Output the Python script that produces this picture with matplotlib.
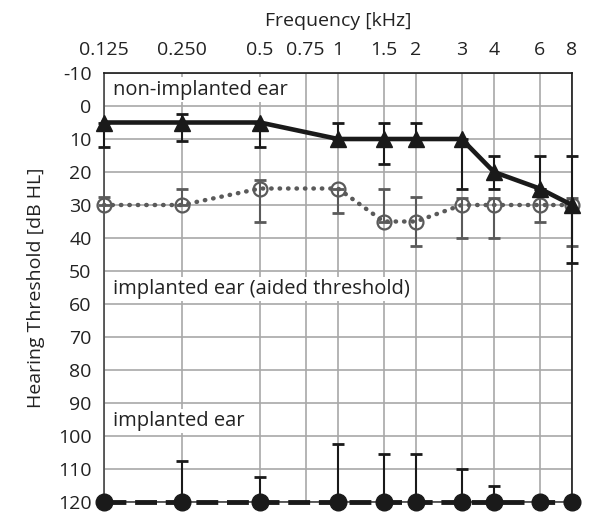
import numpy as np
import matplotlib.pyplot as plt

plt.rcParams['font.family'] = ['Open Sans', 'DejaVu Sans']
plt.rcParams['axes.unicode_minus'] = False

# frequencies (kHz) of the measured points
freqs = [0.125, 0.25, 0.5, 1, 1.5, 2, 3, 4, 6, 8]

# axis ticks on top
tick_freqs = [0.125, 0.25, 0.5, 0.75, 1, 1.5, 2, 3, 4, 6, 8]
tick_labels = ["0.125", "0.250", "0.5", "0.75", "1", "1.5", "2", "3", "4", "6", "8"]
db_ticks = list(range(-10, 121, 10))

# non-implanted ear: median with lower / upper bounds (dB HL)
non_impl = [5, 5, 5, 10, 10, 10, 10, 20, 25, 30]
non_impl_low = [5, 2.5, 5, 5, 5, 5, 10, 15, 15, 15]
non_impl_high = [12.5, 10.5, 12.5, 10, 17.5, 10, 25, 25, 25, 47.5]

# implanted ear, aided threshold
aided = [30, 30, 25, 25, 35, 35, 30, 30, 30, 30]
aided_low = [27.5, 25, 22.5, 25, 25, 27.5, 28, 28, 25, 28]
aided_high = [30, 30, 35, 32.5, 35, 42.5, 40, 40, 35, 42.5]

# implanted ear (unaided)
implanted = [120, 120, 120, 120, 120, 120, 120, 120, 120, 120]
implanted_low = [120, 107.5, 112.5, 102.5, 105.5, 105.5, 110, 115, 120, 120]


def err(vals, low, high):
    v = np.array(vals, dtype=float)
    return [v - np.array(low, dtype=float), np.array(high, dtype=float) - v]


def no_clip(container):
    for part in container.lines:
        if part is None:
            continue
        items = part if isinstance(part, tuple) else [part]
        for a in items:
            a.set_clip_on(False)


fig = plt.figure(figsize=(5.92, 5.13), dpi=100)
ax = fig.add_axes([0.1757, 0.0214, 0.7905, 0.8363])

black = "#1a1a1a"
gray = "#5a5a5a"
txt = "#222222"

# aided threshold (gray dotted, open circles)
eb = ax.errorbar(freqs, aided, yerr=err(aided, aided_low, aided_high), fmt="none",
                 ecolor=gray, elinewidth=1.5, capsize=4.5, capthick=2, zorder=3)
no_clip(eb)
ax.plot(freqs, aided, color=gray, linestyle=(0, (0.1, 1.8)), linewidth=3.2,
        dash_capstyle="round", zorder=3, clip_on=False)
ax.plot(freqs, aided, linestyle="none", marker="o", markersize=10,
        markerfacecolor="none", markeredgecolor=gray, markeredgewidth=1.6, zorder=4,
        clip_on=False)

# non-implanted ear (black, triangles)
eb = ax.errorbar(freqs, non_impl, yerr=err(non_impl, non_impl_low, non_impl_high),
                 fmt="none", ecolor=black, elinewidth=1.5, capsize=4.5, capthick=2,
                 zorder=5)
no_clip(eb)
ax.plot(freqs, non_impl, color=black, linewidth=3.3, marker="^", markersize=11.5,
        zorder=6, clip_on=False)

# implanted ear (black dashed, filled circles)
eb = ax.errorbar(freqs, implanted, yerr=err(implanted, implanted_low, implanted),
                 fmt="none", ecolor=black, elinewidth=1.5, capsize=4.5, capthick=2,
                 zorder=5)
no_clip(eb)
ax.plot(freqs, implanted, color=black, linewidth=3.5, linestyle=(0, (4.5, 1.8)),
        marker="o", markersize=12, zorder=6, clip_on=False)

ax.set_xscale("log", base=2)
ax.set_xlim(0.125, 8)
ax.set_ylim(120, -10)
ax.set_xticks(tick_freqs)
ax.set_xticklabels(tick_labels)
ax.minorticks_off()
ax.set_yticks(db_ticks)
ax.xaxis.tick_top()
ax.xaxis.set_label_position("top")
ax.tick_params(length=0, labelsize=14, colors=txt)
ax.tick_params(axis="x", pad=10)
ax.tick_params(axis="y", pad=9)
ax.set_xlabel("Frequency [kHz]", fontsize=14, labelpad=11, color=txt)
ax.set_ylabel("Hearing Threshold [dB HL]", fontsize=14, labelpad=9, color=txt)

ax.grid(True, color="#a8a8a8", linewidth=1.2)
ax.set_axisbelow(True)
for side in ["top", "right"]:
    ax.spines[side].set_color(black)
    ax.spines[side].set_linewidth(1.2)
for side in ["left", "bottom"]:
    ax.spines[side].set_color("#444444")
    ax.spines[side].set_linewidth(1.2)

box = dict(facecolor="white", edgecolor="none", pad=1.5)
ax.text(0.135, -5, "non-implanted ear", fontsize=14.5, va="center", ha="left",
        color=txt, bbox=box, zorder=2.5)
ax.text(0.135, 55.5, "implanted ear (aided threshold)", fontsize=14.5, va="center",
        ha="left", color=txt, bbox=box, zorder=2.5)
ax.text(0.135, 95.5, "implanted ear", fontsize=14.5, va="center", ha="left",
        color=txt, bbox=box, zorder=2.5)

fig.savefig("out.png", dpi=100)
